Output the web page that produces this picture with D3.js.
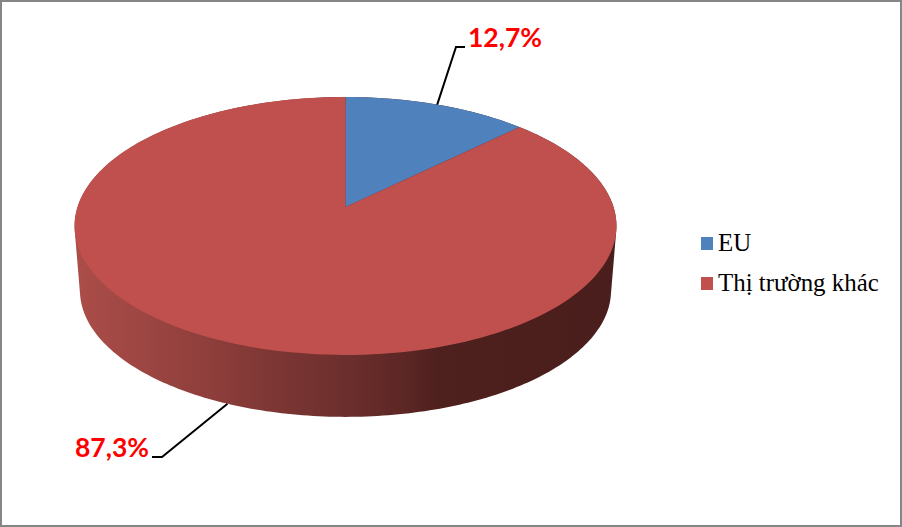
<!DOCTYPE html>
<html>
<head>
<meta charset="utf-8">
<script src="https://cdn.jsdelivr.net/npm/d3@7"></script>
<style>
html,body{margin:0;padding:0;background:#fff;overflow:hidden}
svg{display:block}
</style>
</head>
<body>
<svg id="chart" width="902" height="527"></svg>
<script>
const categories = ["EU", "Thị trường khác"];
const values = [12.7, 87.3];
const valueLabels = ["12,7%", "87,3%"];
const colors = ["#4f81bd", "#bf504d"];
const sideStops = [
  [0, "#ab4d49"], [0.2, "#94413e"], [0.42, "#763331"], [0.51, "#6b2e2c"], [0.62, "#5a2624"], [0.67, "#4e201e"], [1, "#4a1e1c"]
];

const svg = d3.select("#chart");
const W = 902, H = 527;

svg.append("rect").attr("x", 1).attr("y", 1).attr("width", W - 2).attr("height", H - 2)
  .attr("fill", "#fff").attr("stroke", "#868686").attr("stroke-width", 2);

// Perspective projection of the pie disc onto the screen
const apexX = 345.5, apexY = 207, A = 268, B = 126.2, k = 0.147;
const depth = 64.9, depthScale = 0.98;
function topPoint(a) {
  const u = Math.sin(a), v = Math.cos(a), w = 1 + k * v;
  return [apexX + A * u / w, apexY - B * v / w];
}
function bottomPoint(a) {
  const p = topPoint(a);
  return [apexX + (p[0] - apexX) * depthScale, apexY + depth + (p[1] - apexY) * depthScale];
}

const pie = d3.pie().sort(null).value(d => d);
const arcs = pie(values);
const line = d3.line();
const TAU = Math.PI * 2;
const sample = (a0, a1, n) => d3.range(n + 1).map(i => a0 + (a1 - a0) * i / n);

// Side wall
const defs = svg.append("defs");
const grad = defs.append("linearGradient").attr("id", "side")
  .attr("gradientUnits", "userSpaceOnUse")
  .attr("x1", apexX - A).attr("x2", apexX + A).attr("y1", 0).attr("y2", 0);
grad.selectAll("stop").data(sideStops).join("stop")
  .attr("offset", d => d[0]).attr("stop-color", d => d[1]);

const ring = sample(0, TAU, 360);
const hull = d3.polygonHull(ring.map(topPoint).concat(ring.map(bottomPoint)));
svg.append("path").attr("d", line(hull) + "Z").attr("fill", "url(#side)");

// Top slices
svg.selectAll("path.slice").data(arcs).join("path").attr("class", "slice")
  .attr("d", d => line([[apexX, apexY]].concat(sample(d.startAngle, d.endAngle, 180).map(topPoint))) + "Z")
  .attr("fill", (d, i) => colors[i]);

// Leader lines and value labels
const mid = d => (d.startAngle + d.endAngle) / 2;
const labelCfg = [
  { anchorFn: topPoint, elbow: [456, 47], end: [465, 47], tx: 468, ty: 47, ta: "start" },
  { anchorFn: bottomPoint, elbow: [162, 457], end: [152, 457], tx: 149, ty: 457, ta: "end" }
];
arcs.forEach((d, i) => {
  const c = labelCfg[i];
  svg.append("path")
    .attr("d", line([c.anchorFn(mid(d)), c.elbow, c.end]))
    .attr("fill", "none").attr("stroke", "#000").attr("stroke-width", 2);
  svg.append("text").attr("x", c.tx).attr("y", c.ty).attr("text-anchor", c.ta)
    .attr("font-family", "Lato, 'Open Sans', sans-serif").attr("font-weight", 700)
    .attr("font-size", 26.5).attr("fill", "#ff0000").text(valueLabels[i]);
});

// Legend
const legendY = d3.scalePoint().domain(categories).range([251, 291]);
const legend = svg.selectAll("g.legend").data(categories).join("g").attr("class", "legend");
legend.append("rect").attr("x", 701).attr("y", d => legendY(d) - 14)
  .attr("width", 12).attr("height", 13).attr("fill", (d, i) => colors[i]);
legend.append("text").attr("x", 718).attr("y", d => legendY(d))
  .attr("font-family", "'Liberation Serif', serif").attr("font-size", 24.9)
  .attr("fill", "#000").text(d => d);
</script>
</body>
</html>
